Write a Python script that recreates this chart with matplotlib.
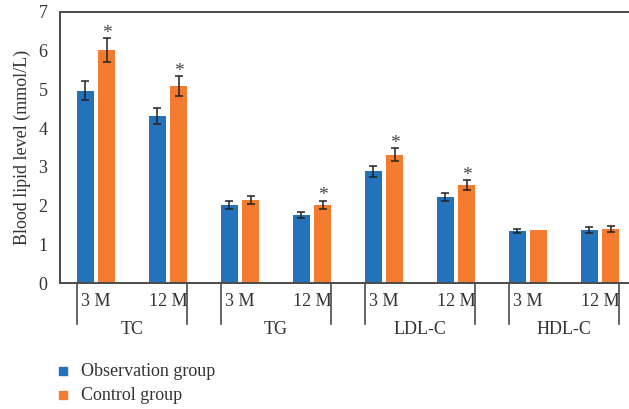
import matplotlib
matplotlib.use("Agg")
import matplotlib.pyplot as plt
import matplotlib.transforms as mtransforms
from matplotlib.patches import Rectangle
from matplotlib.lines import Line2D
import numpy as np

plt.rcParams['font.family'] = ['Liberation Serif', 'DejaVu Serif']

# Data: blood lipid levels (mmol/L) at 3 and 12 months
groups = ["TC", "TG", "LDL-C", "HDL-C"]
timepoints = ["3 M", "12 M"]
observation = [4.97, 4.32, 2.02, 1.76, 2.89, 2.22, 1.34, 1.37]
observation_err = [0.25, 0.21, 0.10, 0.08, 0.14, 0.11, 0.06, 0.07]
control = [6.02, 5.09, 2.14, 2.02, 3.31, 2.53, 1.37, 1.40]
control_err = [0.30, 0.26, 0.10, 0.11, 0.17, 0.12, 0.0, 0.07]
significant = [True, True, False, True, True, True, False, False]

blue = "#2372BA"
orange = "#F47C30"
text_color = "#333333"
axis_color = "#4a4a4a"

W, H = 629, 409
fig = plt.figure(figsize=(W / 100, H / 100), dpi=100)
left_px, top_px, bottom_px = 60, 12, 283
unit_px = 72
ax = fig.add_axes([left_px / W, 1 - bottom_px / H,
                   8 * unit_px / W, (bottom_px - top_px) / H])

x = np.arange(len(observation))
offset, width = 0.146, 0.236
ax.bar(x - offset, observation, width, color=blue, zorder=2)
ax.bar(x + offset, control, width, color=orange, zorder=2)

ekw = dict(fmt="none", ecolor="#222222", elinewidth=1.1, capsize=3.2,
           capthick=1.1, zorder=3)
ax.errorbar(x - offset, observation, yerr=observation_err, **ekw)
ctrl_err = [e if e > 0 else np.nan for e in control_err]
ax.errorbar(x + offset, control, yerr=[ctrl_err, ctrl_err], **ekw)

for xi, v, e, s in zip(x, control, control_err, significant):
    if s:
        ax.text(xi + offset, v + e + 0.12, "*", ha="center", va="center",
                fontsize=14, color="#444444")

ax.set_xlim(-0.5, 7.5)
ax.set_ylim(0, 7)
ax.set_yticks(range(0, 8))
ax.tick_params(axis="y", length=0, pad=9, labelsize=13, labelcolor=text_color)
ax.tick_params(axis="x", length=0)
ax.set_xticks([])
ax.set_ylabel("Blood lipid level (mmol/L)", fontsize=13, color=text_color, labelpad=5)

for side in ["left", "top", "bottom"]:
    ax.spines[side].set_color(axis_color)
    ax.spines[side].set_linewidth(1.4)
ax.spines["right"].set_visible(False)

# Two-level category axis below the plot
trans = mtransforms.blended_transform_factory(ax.transData, ax.transAxes)
axis_h = bottom_px - top_px
line_depth = -(324 - bottom_px) / axis_h
tick_y = -(302 - bottom_px) / axis_h
group_y = -(329 - bottom_px) / axis_h
for g, name in enumerate(groups):
    start, end = 2 * g - 0.27, 2 * g + 1 + 0.27
    for xl in (start, end):
        ax.add_line(Line2D([xl, xl], [0, line_depth], transform=trans,
                           color=axis_color, lw=1.2, clip_on=False))
    for k, tp in enumerate(timepoints):
        ax.text(2 * g + k, tick_y, tp, transform=trans, ha="center", va="center",
                fontsize=13, color=text_color)
    ax.text(2 * g + 0.5, group_y, name, transform=trans, ha="center", va="center",
            fontsize=13, color=text_color)

# Legend
for i, (label, col) in enumerate([("Observation group", blue), ("Control group", orange)]):
    yc = 371 + 24 * i
    fig.patches.append(Rectangle((59 / W, 1 - (yc + 4) / H), 8 / W, 8 / H,
                                 transform=fig.transFigure, color=col))
    fig.text(81 / W, 1 - yc / H, label, ha="left", va="center",
             fontsize=13, color=text_color)

fig.savefig("out.png", dpi=100)
